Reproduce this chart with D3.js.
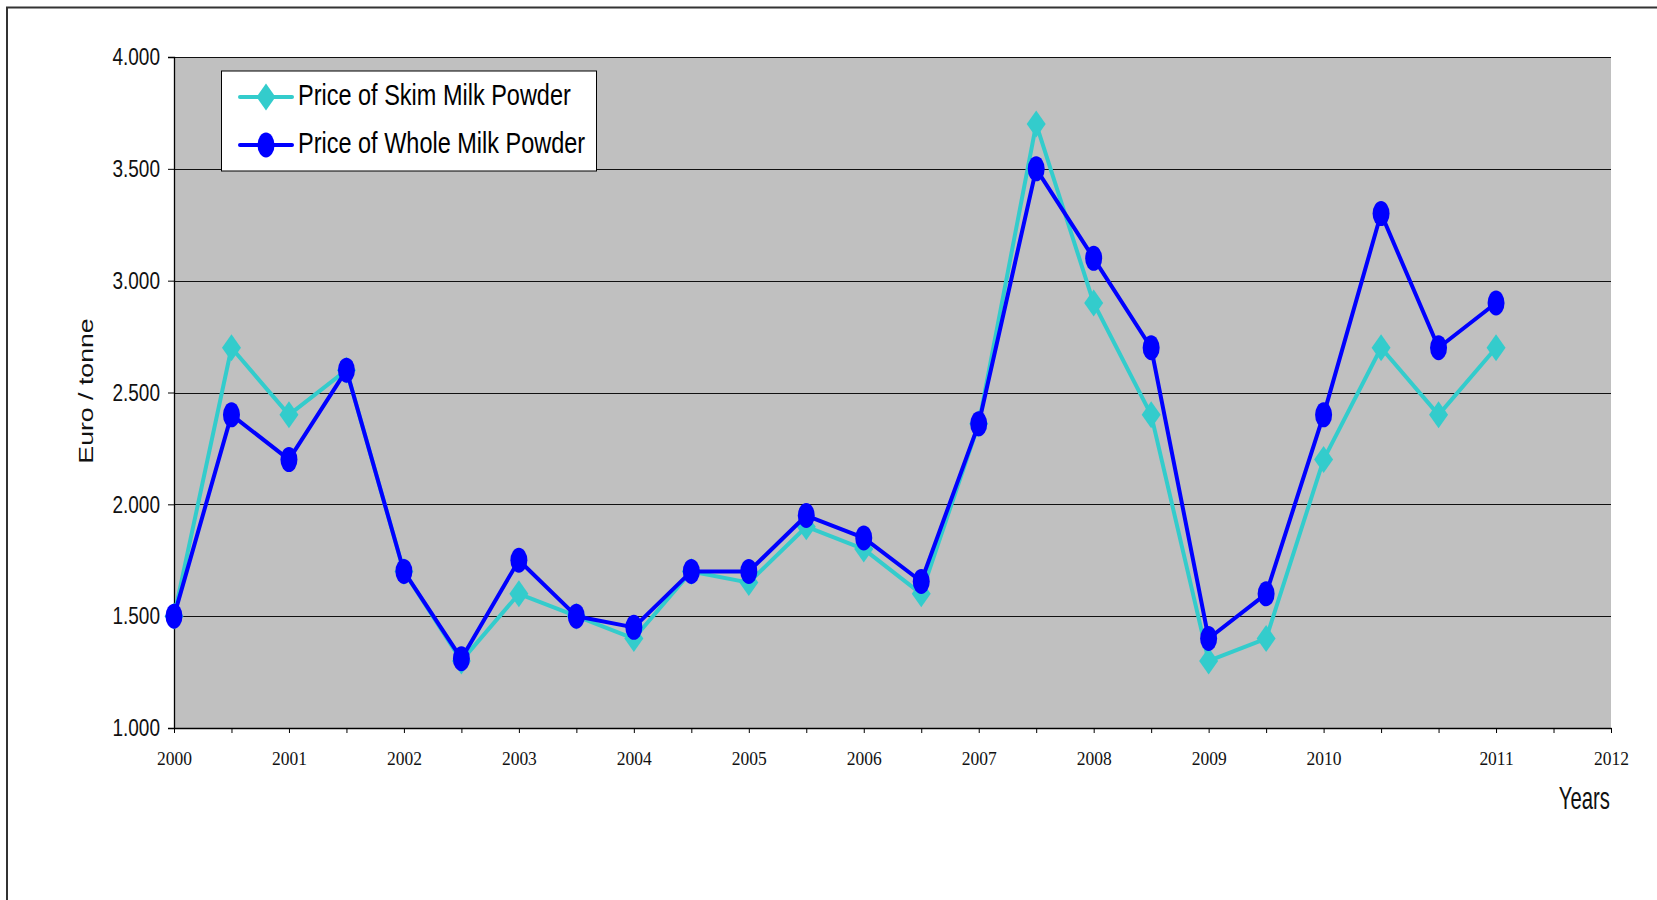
<!DOCTYPE html>
<html>
<head>
<meta charset="utf-8">
<script src="https://cdn.jsdelivr.net/npm/d3@7"></script>
<style>
  html, body { margin: 0; padding: 0; background: #fff; }
  svg { display: block; }
</style>
</head>
<body>
<svg id="chart" width="1657" height="900"></svg>
<script>
// ---- data ----
// 26 half-year tick positions from 2000 to 2012 (category axis)
const periodIndex = d3.range(26);
const xTickLabels = ["2000","","2001","","2002","","2003","","2004","","2005","","2006","",
                     "2007","","2008","","2009","","2010","","","2011","","2012"];
const yTickValues = [1000, 1500, 2000, 2500, 3000, 3500, 4000];
const seriesNames = ["Price of Skim Milk Powder", "Price of Whole Milk Powder"];
const skimMilk  = [1500, 2700, 2400, 2600, 1700, 1300, 1600, 1500, 1400, 1700, 1650, 1900,
                   1800, 1600, 2360, 3700, 2900, 2400, 1300, 1400, 2200, 2700, 2400, 2700];
const wholeMilk = [1500, 2400, 2200, 2600, 1700, 1310, 1750, 1500, 1450, 1700, 1700, 1950,
                   1850, 1655, 2360, 3500, 3100, 2700, 1400, 1600, 2400, 3300, 2700, 2900];
const colors = ["#33CCCC", "#0000FF"];

// ---- layout ----
const svg = d3.select("#chart");
const pLeft = 174, pRight = 1611, pTop = 57, pBottom = 728;

const x = d3.scalePoint().domain(periodIndex).range([pLeft, pRight]);
const y = d3.scaleLinear().domain([1000, 4000]).range([pBottom, pTop]);

const locale = d3.formatLocale({decimal: ",", thousands: ".", grouping: [3], currency: ["", "€"]});
const fmt = locale.format(",");

// outer frame
svg.append("rect")
  .attr("x", 7).attr("y", 7.5).attr("width", 1700).attr("height", 1000)
  .attr("fill", "none").attr("stroke", "#333").attr("stroke-width", 2);

// plot area
svg.append("rect")
  .attr("x", pLeft).attr("y", pTop).attr("width", pRight - pLeft).attr("height", pBottom - pTop)
  .attr("fill", "#C0C0C0");

// gridlines
svg.append("g").selectAll("line")
  .data(yTickValues.filter(v => v > 1000))
  .join("line")
  .attr("x1", pLeft).attr("x2", pRight)
  .attr("y1", d => Math.round(y(d)) + 0.5).attr("y2", d => Math.round(y(d)) + 0.5)
  .attr("stroke", "#111").attr("stroke-width", 1);

// y axis
const yAxis = svg.append("g")
  .attr("transform", `translate(${pLeft},0)`)
  .call(d3.axisLeft(y).tickValues(yTickValues).tickFormat(fmt).tickSize(6).tickPadding(8));
yAxis.select(".domain").attr("stroke", "#000").attr("stroke-width", 1.3);
yAxis.selectAll(".tick line").attr("stroke", "#000");
yAxis.selectAll(".tick text")
  .attr("font-family", "'Liberation Sans', Arial, sans-serif")
  .attr("font-size", 19)
  .attr("fill", "#111")
  .attr("transform", "scale(1,1.26)");

// x axis
const xAxis = svg.append("g")
  .attr("transform", `translate(0,${pBottom})`)
  .call(d3.axisBottom(x).tickFormat(i => xTickLabels[i]).tickSize(5).tickSizeOuter(0));
xAxis.select(".domain").attr("stroke", "#000").attr("stroke-width", 1.3);
xAxis.selectAll(".tick line").attr("stroke", "#000");
xAxis.selectAll(".tick text")
  .attr("font-family", "'Liberation Serif', 'Times New Roman', serif")
  .attr("font-size", 17.5)
  .attr("fill", "#111")
  .attr("y", 0).attr("dy", 0)
  .attr("transform", "translate(0,37) scale(1,1.13)");

// axis titles
svg.append("text")
  .attr("transform", "translate(93,391) rotate(-90) scale(1.27,1)")
  .attr("text-anchor", "middle")
  .attr("font-family", "'Liberation Sans', Arial, sans-serif")
  .attr("font-size", 21)
  .attr("fill", "#111")
  .text("Euro / tonne");

svg.append("text")
  .attr("transform", "translate(1610,809) scale(1,1.55)")
  .attr("text-anchor", "end")
  .attr("font-family", "'Liberation Sans', Arial, sans-serif")
  .attr("font-size", 20.3)
  .attr("fill", "#111")
  .text("Years");

// series
const diamond = (rx, ry) => `M0,${-ry}L${rx},0L0,${ry}L${-rx},0Z`;
const series = [
  {name: seriesNames[0], values: skimMilk, color: colors[0], marker: "diamond"},
  {name: seriesNames[1], values: wholeMilk, color: colors[1], marker: "circle"}
];
const line = d3.line().x((d, i) => x(periodIndex[i])).y(d => y(d));

function drawMarker(sel, s) {
  if (s.marker === "diamond") {
    sel.append("path").attr("d", diamond(9.5, 13.5)).attr("fill", s.color);
  } else {
    sel.append("ellipse").attr("rx", 8.5).attr("ry", 12.5).attr("fill", s.color);
  }
}

series.forEach(s => {
  const g = svg.append("g");
  g.append("path")
    .datum(s.values)
    .attr("d", line)
    .attr("fill", "none")
    .attr("stroke", s.color)
    .attr("stroke-width", 4)
    .attr("stroke-linejoin", "round");
  g.selectAll("g.pt")
    .data(s.values)
    .join("g")
    .attr("class", "pt")
    .attr("transform", (d, i) => `translate(${x(periodIndex[i])},${y(d)})`)
    .each(function() { drawMarker(d3.select(this), s); });
});

// legend
const lg = svg.append("g");
lg.append("rect")
  .attr("x", 221.5).attr("y", 71).attr("width", 375).attr("height", 100)
  .attr("fill", "#fff").attr("stroke", "#000").attr("stroke-width", 1);
const rows = [97, 145];
series.forEach((s, i) => {
  const row = lg.append("g").attr("transform", `translate(0,${rows[i]})`);
  row.append("line")
    .attr("x1", 240).attr("x2", 292).attr("y1", 0).attr("y2", 0)
    .attr("stroke", s.color).attr("stroke-width", 4).attr("stroke-linecap", "round");
  const m = row.append("g").attr("transform", "translate(266,0)");
  drawMarker(m, s);
  row.append("text")
    .attr("transform", "translate(298,8) scale(1,1.29)")
    .attr("font-family", "'Liberation Sans', Arial, sans-serif")
    .attr("font-size", 23.5)
    .attr("fill", "#000")
    .text(s.name);
});
</script>
</body>
</html>
